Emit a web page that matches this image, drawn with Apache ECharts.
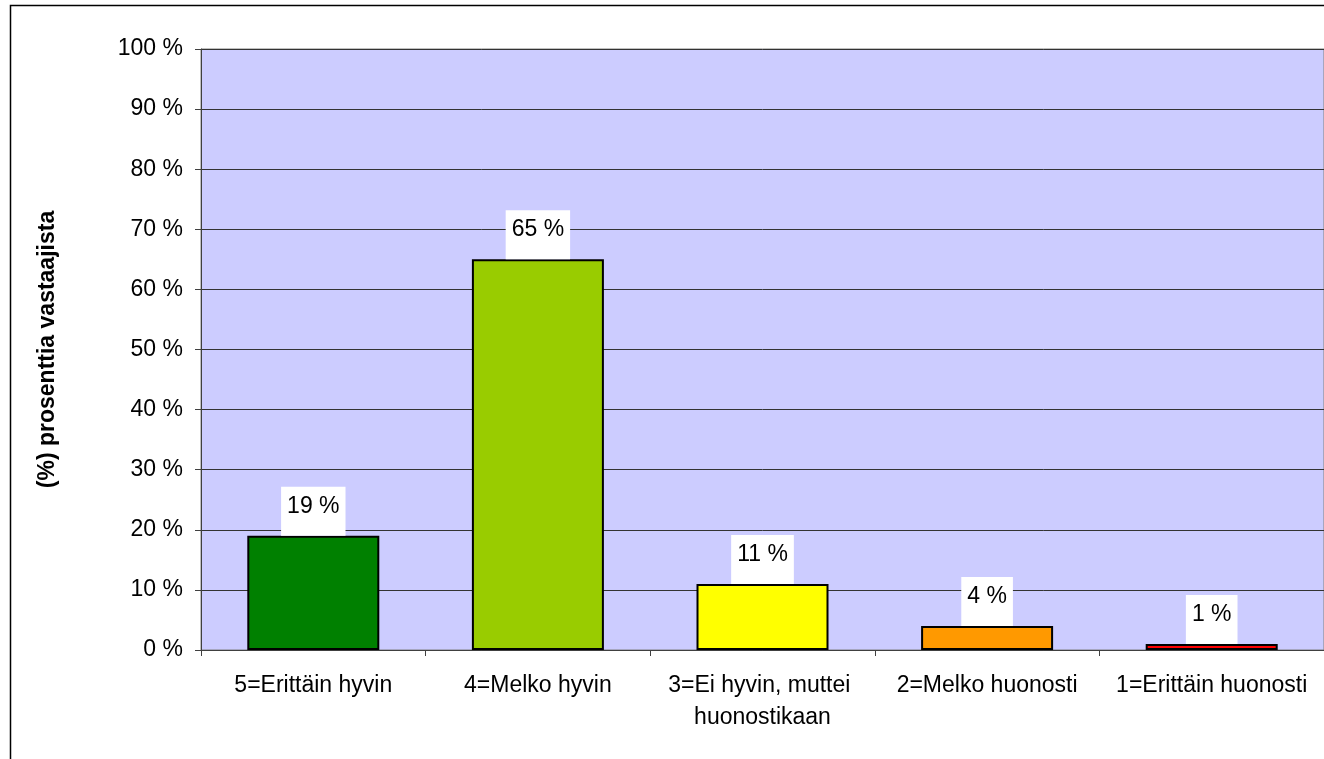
<!DOCTYPE html>
<html>
<head>
<meta charset="utf-8">
<script src="https://cdn.jsdelivr.net/npm/echarts@6/dist/echarts.min.js"></script>
<style>
html,body{margin:0;padding:0;background:#fff;}
#chart{width:1324px;height:759px;}
</style>
</head>
<body>
<div id="chart"></div>
<script>
const categories = ["5=Erittäin hyvin", "4=Melko hyvin", "3=Ei hyvin, muttei huonostikaan", "2=Melko huonosti", "1=Erittäin huonosti"];
const values = [19, 65, 11, 4, 1];
const barColors = ["#008000", "#99CC00", "#FFFF00", "#FF9900", "#FF0000"];
const yTicks = [0, 10, 20, 30, 40, 50, 60, 70, 80, 90, 100];
const yAxisTitle = "(%) prosenttia vastaajista";

const FONT = "Liberation Sans, Arial, sans-serif";
const chart = echarts.init(document.getElementById('chart'));
chart.setOption({
  animation: false,
  backgroundColor: '#ffffff',
  textStyle: { fontFamily: FONT },
  graphic: [{
    type: 'rect',
    shape: { x: 10.5, y: 5.5, width: 1400, height: 900 },
    style: { fill: 'none', stroke: '#000', lineWidth: 1.5 },
    z: -10
  }],
  grid: {
    left: 201, top: 49, width: 1127, height: 601,
    show: true, backgroundColor: '#CCCCFF', borderColor: '#808080', borderWidth: 1
  },
  xAxis: {
    type: 'category',
    data: categories,
    axisLine: { show: true, lineStyle: { color: '#404040', width: 1 } },
    axisTick: { show: true, alignWithLabel: false, length: 6, lineStyle: { color: '#404040' } },
    axisLabel: {
      color: '#000', fontSize: 23, fontFamily: FONT, margin: 20,
      width: 218, overflow: 'break', lineHeight: 32, align: 'center', interval: 0
    }
  },
  yAxis: {
    type: 'value',
    min: yTicks[0], max: yTicks[yTicks.length - 1], interval: 10,
    name: yAxisTitle,
    nameLocation: 'middle', nameRotate: 90, nameGap: 142,
    nameTextStyle: { color: '#000', fontSize: 23, fontWeight: 'bold', fontFamily: FONT },
    axisLine: { show: true, lineStyle: { color: '#404040', width: 1 } },
    axisTick: { show: true, length: 6, lineStyle: { color: '#404040' } },
    axisLabel: { color: '#000', fontSize: 23, fontFamily: FONT, margin: 18, formatter: '{value} %' },
    splitLine: { show: true, lineStyle: { color: '#333', width: 1 } }
  },
  series: [{
    type: 'bar',
    barWidth: 132,
    data: values.map((v, i) => ({
      value: v,
      itemStyle: { color: barColors[i], borderColor: '#000', borderWidth: 2 }
    })),
    label: {
      show: true, position: 'top', distance: 0,
      formatter: '{c} %',
      color: '#000', fontSize: 23, fontFamily: FONT, lineHeight: 23,
      backgroundColor: '#fff', padding: [8, 6, 18, 6]
    }
  }]
});
</script>
</body>
</html>
